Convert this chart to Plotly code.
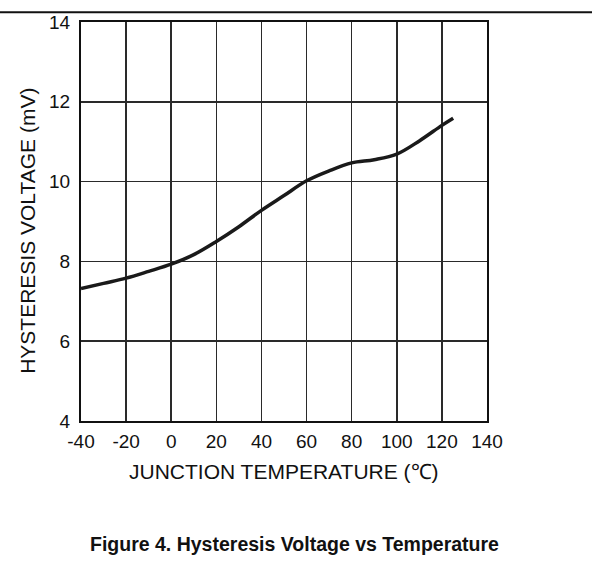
import plotly.graph_objects as go

temps = [-40, -30, -20, -10, 0, 10, 20, 30, 40, 50, 60, 70, 80, 90, 100, 110, 120, 125]
hyst_mv = [7.32, 7.45, 7.58, 7.75, 7.93, 8.17, 8.50, 8.87, 9.28, 9.65, 10.02, 10.27, 10.47, 10.55, 10.69, 11.02, 11.41, 11.59]

x_ticks = [-40, -20, 0, 20, 40, 60, 80, 100, 120, 140]
y_ticks = [4, 6, 8, 10, 12, 14]

FONT = "Liberation Sans, Arial, sans-serif"

fig = go.Figure()
fig.add_trace(go.Scatter(
    x=temps, y=hyst_mv, mode="lines",
    line=dict(color="#1a1a1a", width=3.5, shape="spline", smoothing=1.0),
    showlegend=False, hoverinfo="skip",
))

W, H = 592, 563
L, R, T, B = 81, 487, 16, 421
pw, ph = R - L, B - T

def px(xs):
    return (xs - L) / pw

def py(ys):
    return (B - ys) / ph

fig.update_layout(
    width=W, height=H, autosize=False,
    margin=dict(l=L, r=W - R, t=T, b=H - B, pad=0),
    paper_bgcolor="white", plot_bgcolor="white",
    font=dict(family=FONT, color="#111111"),
    xaxis=dict(
        range=[-40, 140], tickvals=x_ticks, ticktext=[str(v) for v in x_ticks],
        showgrid=True, gridcolor="#2a2a2a", gridwidth=1.5, zeroline=False,
        showline=True, mirror=True, linecolor="#111111", linewidth=2,
        ticks="outside", ticklen=2, tickcolor="rgba(0,0,0,0)",
        tickfont=dict(size=19, family=FONT, color="#111111"), fixedrange=True,
        ticklabeloverflow="allow",
    ),
    yaxis=dict(
        range=[4, 14], tickvals=y_ticks, ticktext=[str(v) for v in y_ticks],
        showgrid=True, gridcolor="#2a2a2a", gridwidth=1.5, zeroline=False,
        showline=True, mirror=True, linecolor="#111111", linewidth=2,
        ticks="outside", ticklen=5, tickcolor="rgba(0,0,0,0)",
        tickfont=dict(size=19, family=FONT, color="#111111"), fixedrange=True,
        ticklabeloverflow="allow",
    ),
    annotations=[
        dict(text="JUNCTION TEMPERATURE (\u2103)", xref="paper", yref="paper",
             x=px(284), y=py(472), showarrow=False, xanchor="center", yanchor="middle",
             font=dict(size=21, family=FONT, color="#111111")),
        dict(text="HYSTERESIS VOLTAGE (mV)", xref="paper", yref="paper",
             x=px(28), y=py(228), showarrow=False, xanchor="center", yanchor="middle",
             textangle=-90, font=dict(size=21, family=FONT, color="#111111")),
        dict(text="<b>Figure 4. Hysteresis Voltage vs Temperature</b>", xref="paper", yref="paper",
             x=px(294), y=py(546), showarrow=False, xanchor="center", yanchor="middle",
             font=dict(size=19.5, family=FONT, color="#111111")),
    ],
    shapes=[
        dict(type="line", xref="paper", yref="paper", x0=px(0), x1=px(W), y0=py(6), y1=py(6),
             line=dict(color="#111111", width=2)),
    ],
)

fig.write_html(
    "out.html",
    config={"displayModeBar": False, "staticPlot": True},
    post_script="document.body.style.margin='0';document.documentElement.style.overflow='hidden';",
)
